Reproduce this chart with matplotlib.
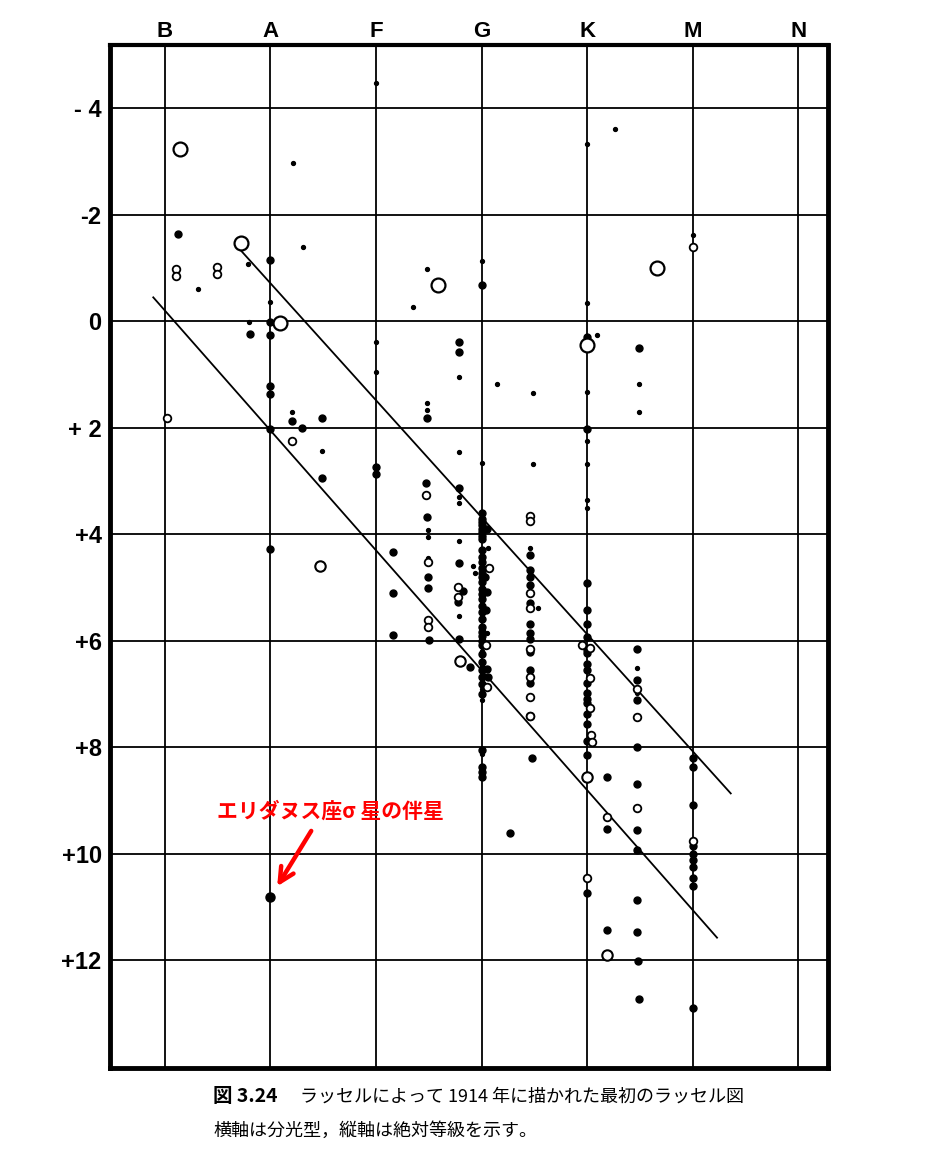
import numpy as np
import matplotlib
matplotlib.use("Agg")
import matplotlib.pyplot as plt

plt.rcParams['font.family'] = ['Liberation Sans', 'DejaVu Sans']
JP = ['Noto Sans CJK JP', 'DejaVu Sans']

# spectral classes on the top axis, absolute magnitudes on the left
classes = ["B", "A", "F", "G", "K", "M", "N"]
mag_ticks = [-4, -2, 0, 2, 4, 6, 8, 10, 12]
mag_labels = ["- 4", "-2", "0", "+ 2", "+4", "+6", "+8", "+10", "+12"]

# stars (x = spectral position, B=0 ... N=6 ; y = absolute magnitude)
fill_big_x = [0.12, 0.81, 1.0, 1.0, 1.0, 1.0, 1.0, 1.0, 1.0, 1.2, 1.3, 1.49, 1.49,
              2.0, 2.0, 2.16, 2.16, 2.16, 2.48, 2.79, 2.79, 3.0,
              2.47, 2.48, 2.49, 2.49, 2.5, 2.79, 2.79, 2.82, 2.78, 2.79, 2.89,
              3.0, 3.0, 3.0, 3.0, 3.0, 3.0, 3.0, 3.0, 3.0, 3.0, 3.0, 3.0, 3.0, 3.0,
              3.0, 3.0, 3.0, 3.0, 3.0, 3.0, 3.0, 3.0, 3.0, 3.0, 3.0, 3.0, 3.0, 3.0,
              3.0, 3.0, 3.0, 3.0, 3.0, 3.0, 3.0, 3.0,
              3.03, 3.05, 3.04, 3.05, 3.06, 3.05,
              3.46, 3.46, 3.46, 3.46, 3.46, 3.46, 3.46, 3.46, 3.46, 3.46, 3.46, 3.48,
              4.0, 4.0, 4.0, 4.0, 4.0, 4.0, 4.0, 4.0, 4.0, 4.0, 4.0, 4.0, 4.0, 4.0,
              4.0, 4.0, 4.0, 4.0, 4.0,
              4.49, 4.47, 4.47, 4.47, 4.47, 4.47, 4.47, 4.47, 4.47, 4.47, 4.48, 4.49,
              4.19, 4.19, 4.19,
              5.0, 5.0, 5.0, 5.0, 5.0, 5.0, 5.0, 5.0, 5.0, 5.0, 3.27]
fill_big_y = [-1.64, 0.23, -1.15, 0.02, 0.26, 1.22, 1.37, 2.03, 4.27, 1.88, 2.01, 1.82, 2.95,
              2.73, 2.86, 4.34, 5.11, 5.9, 1.82, 0.38, 0.58, -0.68,
              3.03, 3.68, 4.81, 5.02, 5.98, 3.14, 4.55, 5.06, 5.28, 5.96, 6.5,
              3.61, 3.71, 3.77, 3.83, 3.9, 3.96, 4.03, 4.09, 4.3, 4.43, 4.53, 4.63, 4.73, 4.8,
              4.9, 5.03, 5.12, 5.21, 5.34, 5.46, 5.59, 5.74, 5.84, 5.91, 6.0, 6.09, 6.25, 6.41,
              6.56, 6.68, 6.81, 7.0, 8.06, 8.38, 8.47, 8.57,
              4.81, 5.08, 5.43, 6.54, 6.69, 3.91,
              4.4, 4.68, 4.81, 4.96, 5.3, 5.68, 5.85, 5.96, 6.22, 6.56, 6.8, 8.21,
              0.3, 2.03, 4.92, 5.43, 5.68, 5.94, 6.18, 6.24, 6.43, 6.56, 6.8, 6.99, 7.09, 7.18,
              7.37, 7.56, 7.88, 8.14, 10.75,
              0.51, 6.15, 6.73, 7.12, 8.0, 8.69, 9.55, 9.94, 10.88, 11.47, 12.01, 12.73,
              8.57, 9.53, 11.43,
              8.2, 8.38, 9.08, 9.85, 10.0, 10.13, 10.26, 10.45, 10.6, 12.91, 9.62]

fill_small_x = [0.31, 0.79, 0.8, 1.0, 1.21, 1.31, 1.2, 1.49, 2.0, 2.0, 2.0, 2.35, 2.48,
                2.48, 2.48, 2.79, 2.79, 3.0, 3.0, 3.15, 3.49, 3.49, 4.0, 4.26, 4.0, 4.09,
                4.0, 4.0, 4.0, 4.0, 4.0, 4.49, 4.49, 5.0, 2.49, 2.49, 2.49, 2.79, 2.79,
                2.79, 2.79, 2.92, 2.94, 3.06, 3.05, 3.46, 3.53, 4.47, 4.47, 3.0, 3.0,
                3.0, 3.0, 3.0]
fill_small_y = [-0.6, -1.07, 0.02, -0.36, -2.97, -1.39, 1.71, 2.44, -4.47, 0.38, 0.96, -0.26, -0.98,
                1.54, 1.67, 1.05, 2.46, -1.13, 2.67, 1.17, 1.35, 2.69, -3.33, -3.61, -0.34, 0.26,
                1.33, 2.24, 2.69, 3.36, 3.5, 1.18, 1.71, -1.62, 3.93, 4.06, 4.44, 3.31, 3.42,
                4.12, 5.53, 4.59, 4.72, 4.25, 5.85, 4.25, 5.38, 6.52, 6.99, 6.47, 6.9,
                7.12, 8.13, 6.2]

open_small_x = [0.02, 1.2, 5.0, 0.11, 0.11, 0.49, 0.49, 2.49, 2.49, 2.49, 2.78, 2.78,
                3.07, 3.04, 3.05, 3.46, 3.46, 3.46, 3.46, 3.46, 3.46, 3.46, 3.46, 3.46,
                3.95, 4.03, 4.03, 4.03, 4.04, 4.05, 4.19, 4.47, 4.47, 4.47, 5.0, 4.0, 2.47]
open_small_y = [1.82, 2.24, -1.4, -0.98, -0.85, -1.02, -0.88, 4.53, 5.62, 5.75, 5.0, 5.18,
                4.63, 6.09, 6.88, 3.65, 3.75, 5.11, 5.39, 6.15, 6.69, 7.05, 7.41, 7.41,
                6.09, 6.13, 6.71, 7.26, 7.78, 7.91, 9.32, 6.9, 7.44, 9.15, 9.76, 10.45, 3.27]

open_big_x = [0.14, 0.72, 1.09, 2.59, 4.0, 4.66]
open_big_y = [-3.23, -1.47, 0.04, -0.68, 0.45, -1.0]
open_mid_x = [1.47, 2.8, 4.0, 4.19]
open_mid_y = [4.6, 6.39, 8.57, 11.9]

# companion of 40 Eridani (sigma Eri B)
eri_x, eri_y = 1.0, 10.81

# the two bounding lines of the main sequence
upper_x, upper_y = [0.72, 5.36], [-1.33, 8.87]
lower_x, lower_y = [-0.11, 5.23], [-0.45, 11.58]

fig = plt.figure(figsize=(9.44, 11.61), dpi=100)
ax = fig.add_axes([0.1165, 0.0805, 0.7605, 0.8807])
ax.set_xlim(-0.52, 6.28)
ax.set_ylim(14.02, -5.19)

for v in range(len(classes)):
    ax.axvline(v, color="black", lw=1.3, zorder=1)
for m in mag_ticks:
    ax.axhline(m, color="black", lw=1.3, zorder=1)

ax.plot(upper_x, upper_y, color="black", lw=1.3, zorder=2)
ax.plot(lower_x, lower_y, color="black", lw=1.3, zorder=2)

ax.plot(fill_big_x, fill_big_y, "o", ms=5, color="black", zorder=3)
ax.plot(fill_small_x, fill_small_y, "o", ms=2.8, color="black", zorder=3)
ax.plot(open_small_x, open_small_y, "o", ms=5.5, mfc="white", mec="black", mew=1.3, zorder=4)
ax.plot(open_mid_x, open_mid_y, "o", ms=7.5, mfc="white", mec="black", mew=1.5, zorder=4)
ax.plot(open_big_x, open_big_y, "o", ms=10, mfc="white", mec="black", mew=1.6, zorder=4)
ax.plot([eri_x], [eri_y], "o", ms=6.5, color="black", zorder=4)

ax.xaxis.tick_top()
ax.set_xticks(range(len(classes)))
ax.set_xticklabels(classes, fontsize=16, fontweight="bold")
ax.set_yticks(mag_ticks)
ax.set_yticklabels(mag_labels, fontsize=17, fontweight="bold")
ax.tick_params(axis="x", length=0, pad=2)
ax.tick_params(axis="y", length=0, pad=6)
for s in ax.spines.values():
    s.set_linewidth(3.5)
ax.spines["top"].set_linewidth(3)

ax.annotate("", xy=(1.05, 10.66), xytext=(1.40, 9.53),
            arrowprops=dict(arrowstyle="->", color="red", lw=3.2, mutation_scale=26),
            zorder=6)
ax.text(1.57, 9.2, "エリダヌス座σ 星の伴星", color="red", fontsize=15, fontweight="bold",
        family=JP, ha="center", va="center", zorder=6)

fig.text(213 / 944, 1 - 1097 / 1161, "図 3.24", family=JP, fontsize=14, fontweight="bold",
         va="center", ha="left")
fig.text(300 / 944, 1 - 1097 / 1161, "ラッセルによって 1914 年に描かれた最初のラッセル図",
         family=JP, fontsize=13, va="center", ha="left")
fig.text(213 / 944, 1 - 1131 / 1161, "横軸は分光型，縦軸は絶対等級を示す。",
         family=JP, fontsize=13, va="center", ha="left")

fig.savefig("out.png", dpi=100)
